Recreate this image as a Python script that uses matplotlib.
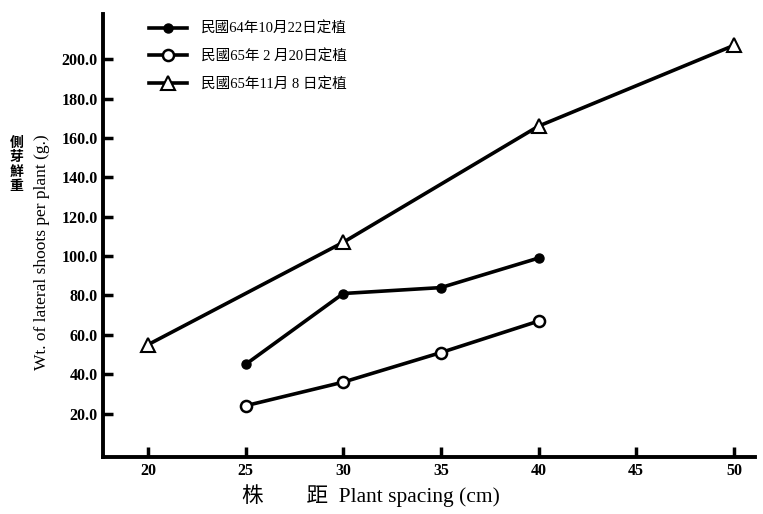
import matplotlib
matplotlib.use("Agg")
import matplotlib.pyplot as plt

plt.rcParams['font.family'] = ['Liberation Serif', 'Noto Sans CJK TC', 'DejaVu Sans']

x1 = [25, 30, 35, 40]
y1 = [45, 81, 84, 99]
x2 = [25, 30, 35, 40]
y2 = [24, 36, 51, 67]
x3 = [20, 30, 40, 50]
y3 = [55, 107, 166, 207]
labels = ['民國64年10月22日定植', '民國65年 2 月20日定植', '民國65年11月 8 日定植']
xticks = [20, 25, 30, 35, 40, 45, 50]
yticks = [20, 40, 60, 80, 100, 120, 140, 160, 180, 200]

fig = plt.figure(figsize=(7.63, 5.14), dpi=100)
ax = fig.add_axes([0.135, 0.111, 0.855, 0.862])

ax.plot(x1, y1, '-o', color='black', lw=2.6, ms=6.5, mfc='black', mec='black', label=labels[0])
ax.plot(x2, y2, '-o', color='black', lw=2.6, ms=8, mfc='white', mec='black', mew=1.8, label=labels[1])
ax.plot(x3, y3, '-^', color='black', lw=2.6, ms=10, mfc='white', mec='black', mew=1.5, label=labels[2])

ax.set_xlim(17.7, 51.1)
ax.set_ylim(-2, 223)
ax.set_xticks(xticks)
ax.set_xticklabels([str(t) for t in xticks], fontsize=11.5, fontweight='bold')
ax.set_yticks(yticks)
ax.set_yticklabels([f"{t:.1f}" for t in yticks], fontsize=11.5, fontweight='bold')
ax.tick_params(axis='both', direction='in', length=7, width=2.5, pad=4)
for s in ['top', 'right']:
    ax.spines[s].set_visible(False)
for s in ['left', 'bottom']:
    ax.spines[s].set_linewidth(2.8)

leg = ax.legend(loc='upper left', bbox_to_anchor=(0.05, 1.012), frameon=False,
                handlelength=2.6, labelspacing=0.95, handletextpad=1.0,
                prop={'family': ['Liberation Serif', 'Noto Sans CJK TC'], 'size': 10.5})

ax.set_xlabel('株　　距  Plant spacing (cm)', fontsize=15.5,
              family=['Liberation Serif', 'Noto Sans CJK TC'])
ax.xaxis.set_label_coords(0.41, -0.062)
fig.text(0.055, 0.51, 'Wt. of lateral shoots per plant (g.)', rotation=90,
         ha='center', va='center', fontsize=12.5)
fig.text(0.022, 0.68, '側\n芽\n鮮\n重', ha='center', va='center', fontsize=10,
         family=['Noto Sans CJK TC'], fontweight='bold', linespacing=1.05)

fig.savefig('out.png', dpi=100)
